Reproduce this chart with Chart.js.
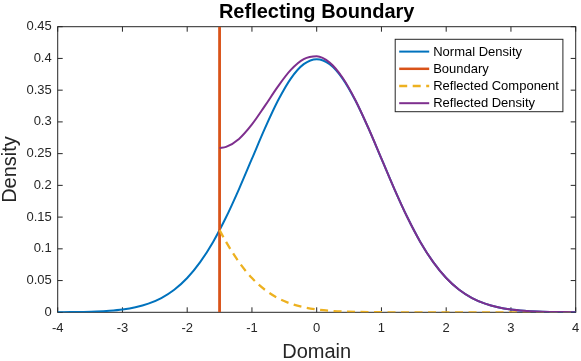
<!DOCTYPE html>
<html><head><meta charset="utf-8">
<script src="https://cdn.jsdelivr.net/npm/chart.js@4.4.0/dist/chart.umd.min.js"></script>
<style>html,body{margin:0;padding:0;background:#fff;}#wrap{width:581px;height:361px;position:relative;}</style>
</head><body><div id="wrap"><canvas id="c" width="581" height="361"></canvas></div>
<script>
const chartTitle = 'Reflecting Boundary';
const xAxisTitle = 'Domain';
const yAxisTitle = 'Density';
const seriesNames = ['Normal Density', 'Boundary', 'Reflected Component', 'Reflected Density'];

const normalX = [-4,-3.8,-3.6,-3.4,-3.2,-3,-2.8,-2.6,-2.4,-2.2,-2,-1.8,-1.6,-1.4,-1.2,-1,-0.8,-0.6,-0.4,-0.2,0,
  0.2,0.4,0.6,0.8,1,1.2,1.4,1.6,1.8,2,2.2,2.4,2.6,2.8,3,3.2,3.4,3.6,3.8,4];
const normalY = [0.0001,0.0003,0.0006,0.0012,0.0024,0.0044,0.0079,0.0136,0.0224,0.0355,0.054,0.079,0.1109,0.1497,0.1942,0.242,0.2897,0.3332,0.3683,0.391,0.3989,
  0.391,0.3683,0.3332,0.2897,0.242,0.1942,0.1497,0.1109,0.079,0.054,0.0355,0.0224,0.0136,0.0079,0.0044,0.0024,0.0012,0.0006,0.0003,0.0001];

const boundaryX = [-1.5, -1.5];
const boundaryY = [0, 0.45];

const reflX = [-1.5,-1.4,-1.2,-1,-0.8,-0.6,-0.4,-0.2,0,0.2,0.4,0.6,0.8,1,1.2,1.4,1.6,1.8,2,2.2,2.4,2.6,2.8,3,3.2,3.4,3.6,3.8,4];
const reflComponentY = [0.1295,0.1109,0.079,0.054,0.0355,0.0224,0.0136,0.0079,0.0044,0.0024,0.0012,0.0006,0.0003,0.0001,0,0,0,0,0,0,0,0,0,0,0,0,0,0,0];
const reflDensityY = [0.259,0.2606,0.2732,0.296,0.3252,0.3556,0.3819,0.3989,0.4033,0.3934,0.3695,0.3338,0.29,0.2421,0.1942,0.1497,0.1109,0.079,0.054,0.0355,0.0224,0.0136,0.0079,0.0044,0.0024,0.0012,0.0006,0.0003,0.0001];

const xTickValues = [-4,-3,-2,-1,0,1,2,3,4];
const xTickLabels = ['-4','-3','-2','-1','0','1','2','3','4'];
const yTickValues = [0,0.05,0.1,0.15,0.2,0.25,0.3,0.35,0.4,0.45];
const yTickLabels = ['0','0.05','0.1','0.15','0.2','0.25','0.3','0.35','0.4','0.45'];

const colors = ['#0072BD', '#D95319', '#EDB120', '#7E2F8E'];
const FONT = '"Liberation Sans", Arial, Helvetica, sans-serif';
const AXC = '#262626';

function pts(xs, ys) { return xs.map((x, i) => ({x: x, y: ys[i]})); }

const axesBox = {
  id: 'axesBox',
  beforeDatasetsDraw(chart) {
    const {ctx, chartArea: a, scales: {x, y}} = chart;
    ctx.save();
    ctx.strokeStyle = AXC; ctx.lineWidth = 1;
    ctx.strokeRect(a.left, a.top, a.right - a.left, a.bottom - a.top);
    const tl = 5;
    ctx.beginPath();
    x.ticks.forEach(t => { const p = x.getPixelForValue(t.value);
      ctx.moveTo(p, a.bottom); ctx.lineTo(p, a.bottom - tl);
      ctx.moveTo(p, a.top); ctx.lineTo(p, a.top + tl); });
    y.ticks.forEach(t => { const p = y.getPixelForValue(t.value);
      ctx.moveTo(a.left, p); ctx.lineTo(a.left + tl, p);
      ctx.moveTo(a.right, p); ctx.lineTo(a.right - tl, p); });
    ctx.stroke();
    ctx.restore();
  }
};

const titlePlugin = {
  id: 'titlePlugin',
  afterDraw(chart) {
    const {ctx, chartArea: a} = chart;
    ctx.save();
    ctx.fillStyle = '#000';
    ctx.font = 'bold 20px ' + FONT;
    ctx.textAlign = 'center'; ctx.textBaseline = 'alphabetic';
    ctx.fillText(chartTitle, (a.left + a.right) / 2, 18);
    ctx.restore();
  }
};

const legendPlugin = {
  id: 'legendBox',
  afterDraw(chart) {
    const {ctx, chartArea: a} = chart;
    const bx = a.right - 180.5, by = a.top + 12.6, bw = 167.7, bh = 72.4;
    ctx.save();
    ctx.fillStyle = '#fff';
    ctx.fillRect(bx, by, bw, bh);
    ctx.strokeStyle = AXC; ctx.lineWidth = 1;
    ctx.strokeRect(bx, by, bw, bh);
    ctx.font = '13px ' + FONT;
    ctx.textBaseline = 'middle'; ctx.textAlign = 'left';
    chart.data.datasets.forEach((ds, i) => {
      const yy = by + 12.3 + i * 17.2;
      ctx.save();
      ctx.strokeStyle = ds.borderColor;
      ctx.lineWidth = Math.min(ds.borderWidth, 2.5);
      ctx.setLineDash(ds.borderDash || []);
      ctx.beginPath(); ctx.moveTo(bx + 4, yy); ctx.lineTo(bx + 34, yy); ctx.stroke();
      ctx.restore();
      ctx.fillStyle = '#000';
      ctx.fillText(ds.label, bx + 38, yy + 0.5);
    });
    ctx.restore();
  }
};

new Chart(document.getElementById('c'), {
  type: 'scatter',
  data: {
    datasets: [
      {label: seriesNames[0], data: pts(normalX, normalY), borderColor: colors[0], borderWidth: 2, order: 4},
      {label: seriesNames[1], data: pts(boundaryX, boundaryY), borderColor: colors[1], borderWidth: 2.8, order: 3, cubicInterpolationMode: 'default', tension: 0},
      {label: seriesNames[2], data: pts(reflX, reflComponentY), borderColor: colors[2], borderWidth: 2.3, borderDash: [8, 5.5], order: 2},
      {label: seriesNames[3], data: pts(reflX, reflDensityY), borderColor: colors[3], borderWidth: 2, order: 1}
    ].map(d => Object.assign({showLine: true, pointRadius: 0, pointHoverRadius: 0, fill: false, cubicInterpolationMode: 'monotone', backgroundColor: d.borderColor}, d))
  },
  options: {
    responsive: false,
    animation: false,
    devicePixelRatio: 1,
    layout: {padding: {top: 26.7, right: 5.3, left: 0, bottom: 0}},
    plugins: {legend: {display: false}, title: {display: false}, tooltip: {enabled: false}},
    scales: {
      x: {
        type: 'linear', min: -4, max: 4,
        afterBuildTicks(s) { s.ticks = xTickValues.map(v => ({value: v})); },
        afterFit(s) { s.height = 48.7; s.paddingLeft = 0; s.paddingRight = 0; },
        grid: {display: true, drawOnChartArea: false, drawTicks: false},
        border: {display: false},
        ticks: {autoSkip: false, maxRotation: 0, padding: 8, color: AXC, font: {family: FONT, size: 13},
          callback: (v, i) => xTickLabels[i]},
        title: {display: true, text: xAxisTitle, color: AXC, font: {family: FONT, size: 20, lineHeight: 0.9}, padding: {top: 0, bottom: 0}}
      },
      y: {
        type: 'linear', min: 0, max: 0.45,
        afterBuildTicks(s) { s.ticks = yTickValues.map(v => ({value: v})); },
        afterFit(s) { s.width = 57.7; s.paddingTop = 0; s.paddingBottom = 0; },
        grid: {display: true, drawOnChartArea: false, drawTicks: false},
        border: {display: false},
        ticks: {autoSkip: false, padding: 6, color: AXC, font: {family: FONT, size: 13},
          callback: (v, i) => yTickLabels[i]},
        title: {display: true, text: yAxisTitle, color: AXC, font: {family: FONT, size: 20, lineHeight: 1}, padding: {top: 0, bottom: 0}}
      }
    }
  },
  plugins: [axesBox, titlePlugin, legendPlugin]
});
</script>
</body></html>
